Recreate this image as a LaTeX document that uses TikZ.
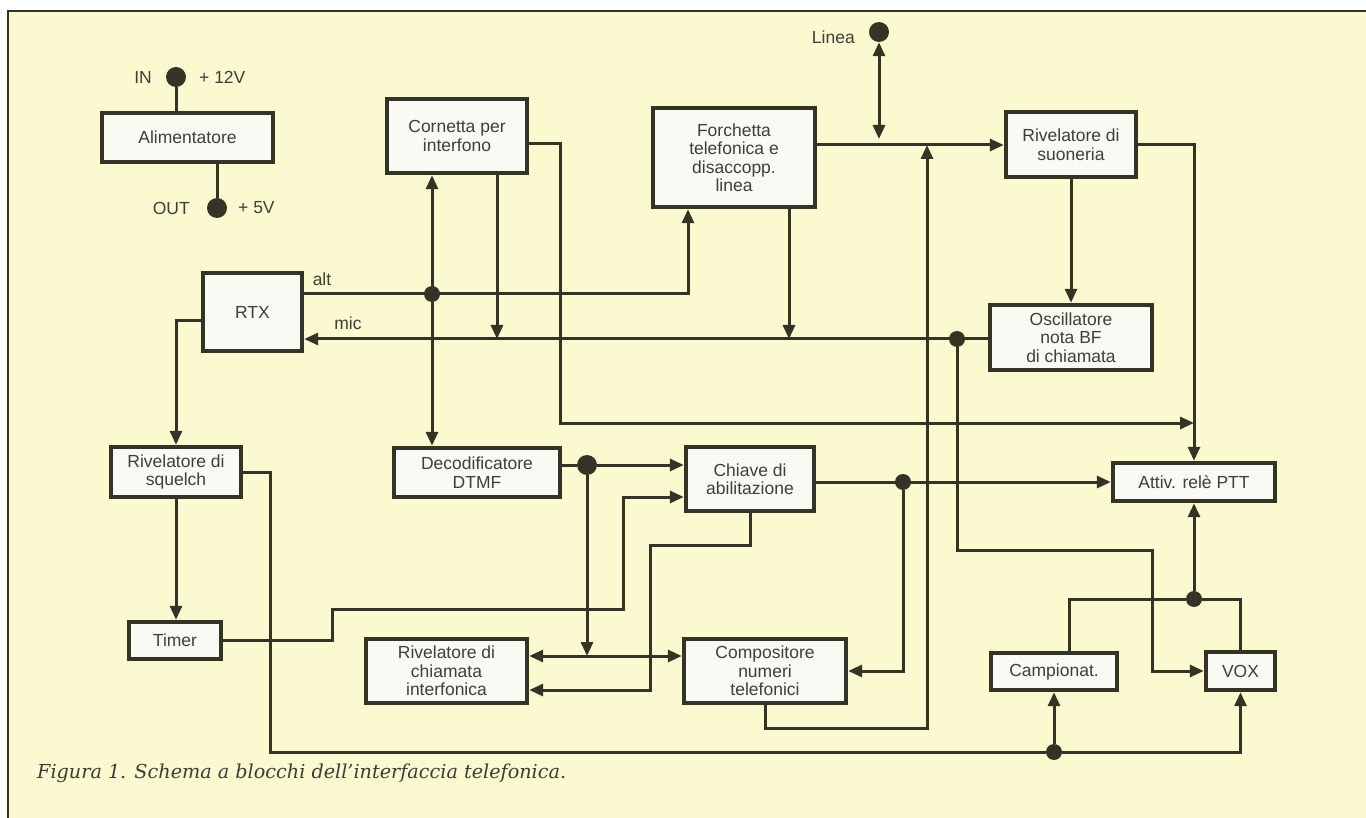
\documentclass[tikz,border=0pt]{standalone}
\usepackage{fontspec}
\setmainfont{Liberation Sans}
\newfontfamily\capfont{DejaVu Serif}
\usetikzlibrary{arrows.meta,calc}
\definecolor{bg}{RGB}{251,249,208}
\definecolor{ink}{RGB}{52,52,38}
\definecolor{txt}{RGB}{62,62,58}
\definecolor{capcol}{RGB}{60,60,52}
\definecolor{boxfill}{RGB}{250,250,244}
\begin{document}
\begin{tikzpicture}[x=1pt,y=-1pt,
  blk/.style={draw=ink,line width=4.4pt,fill=boxfill,inner sep=0pt,align=center,text=txt,font=\fontsize{17.5}{18.5}\selectfont},
  wire/.style={draw=ink,line width=3pt},
  arr/.style={wire,-{Triangle[length=14pt,width=12pt]}},
  arr2/.style={wire,{Triangle[length=14pt,width=12pt]}-{Triangle[length=14pt,width=12pt]}},
  jdot/.style={circle,fill=ink,inner sep=0pt,minimum size=16pt},
  tdot/.style={circle,fill=ink,inner sep=0pt,minimum size=20pt},
  lbl/.style={text=txt,font=\fontsize{17.5}{18.5}\selectfont,inner sep=0pt},
]
\useasboundingbox (0,0) rectangle (1366,818);
\fill[white] (0,0) rectangle (1366,818);
\fill[bg] (8,11) rectangle (1366,818);
\draw[ink,line width=2.4pt] (8,818) -- (8,11) -- (1366,11);

% blocks
\node[blk,minimum width=171pt,minimum height=49pt] (alim) at (187.5,137.5) {Alimentatore};
\node[blk,minimum width=140pt,minimum height=74pt] (corn) at (457,136) {Cornetta per\\interfono};
\node[blk,minimum width=162pt,minimum height=99pt] (forch) at (734,157.5) {Forchetta\\telefonica e\\disaccopp.\\linea};
\node[blk,minimum width=130pt,minimum height=65pt] (rivs) at (1071,144.5) {Rivelatore di\\suoneria};
\node[blk,minimum width=99pt,minimum height=78pt] (rtx) at (252.5,312) {RTX};
\node[blk,minimum width=162pt,minimum height=65pt] (osc) at (1071,337.5) {Oscillatore\\nota BF\\di chiamata};
\node[blk,minimum width=130pt,minimum height=50pt] (squ) at (176,472) {Rivelatore di\\squelch};
\node[blk,minimum width=166pt,minimum height=49pt] (dtmf) at (477,472.5) {Decodificatore\\DTMF};
\node[blk,minimum width=128pt,minimum height=64pt] (chiave) at (750,479) {Chiave di\\abilitazione};
\node[blk,minimum width=162pt,minimum height=38pt] (ptt) at (1194,482) {Attiv. relè PTT};
\node[blk,minimum width=92pt,minimum height=37pt] (timer) at (175,640.5) {Timer};
\node[blk,minimum width=161pt,minimum height=64pt] (rivc) at (446.5,671) {Rivelatore di\\chiamata\\interfonica};
\node[blk,minimum width=162pt,minimum height=64pt] (comp) at (765,671) {Compositore\\numeri\\telefonici};
\node[blk,minimum width=126pt,minimum height=37pt] (camp) at (1054,671.5) {Campionat.};
\node[blk,minimum width=69pt,minimum height=38pt] (vox) at (1240.5,671) {VOX};

% terminals and junctions
\node[tdot] (indot) at (176,77) {};
\node[tdot] (outdot) at (217,208) {};
\node[tdot] (lindot) at (879,32) {};
\node[jdot] (j432) at (432,294) {};
\node[jdot] (j957) at (957,339) {};
\node[tdot] (jd) at (587,465) {};
\node[jdot] (j903) at (903,482) {};
\node[jdot] (jp) at (1194,599) {};
\node[jdot] (jc) at (1054,752) {};

% labels
\node[lbl,anchor=east] (lin) at (152,77) {IN};
\node[lbl,anchor=west] (l12) at (199,77) {+ 12V};
\node[lbl,anchor=east] (lout) at (190,208) {OUT};
\node[lbl,anchor=west] (l5) at (238,208) {+ 5V};
\node[lbl,anchor=east] (llinea) at (855,37) {Linea};
\node[lbl] (lalt) at (322,279) {alt};
\node[lbl] (lmic) at (348,323) {mic};

% routing coordinates
\coordinate (busy) at (0,145);
\coordinate (alty) at (0,294);
\coordinate (micy) at (0,339);
\coordinate (linend) at (879,139);
\coordinate (b927) at (927,728);
\coordinate (k1) at (560,423);
\coordinate (k2) at (1194,423);
\coordinate (m497) at (497,339);
\coordinate (m789) at (789,339);
\coordinate (x432) at (432,0);
\coordinate (b1152) at (1152,550);
\coordinate (s1) at (270,752);
\coordinate (t1) at (332,609);
\coordinate (t2) at (623,497);
\coordinate (h587) at (587,656);
\coordinate (h656) at (0,656);
\coordinate (c650) at (650,545);
\coordinate (y690) at (0,690);

% connectors
\draw[wire] (indot) -- (indot |- alim.north);
\draw[wire] (outdot |- alim.south) -- (outdot);
\draw[arr2] (lindot.south) -- (linend);
\draw[arr] (forch.east |- busy) -- (rivs.west |- busy);
\draw[arr] (comp.south) |- (b927) -- (b927 |- busy);
\draw[arr] (rivs.east) -| (ptt.north);
\draw[arr] (rivs.south) -- (osc.north);
\draw[arr] ([yshift=-8pt]corn.east) -| (k1) -- (k2);
\draw[arr] (rtx.east |- alty) -| ([xshift=-46pt]forch.south);
\draw[arr2] (corn.south -| x432) -- (dtmf.north -| x432);
\draw[arr] (corn.south -| m497) -- (m497);
\draw[arr] (forch.south -| m789) -- (m789);
\draw[arr] (osc.west |- micy) -- (rtx.east |- micy);
\draw[arr] (j957) |- (b1152) |- (vox.west);
\draw[arr] ([yshift=-9pt]rtx.west) -| (squ.north);
\draw[arr] (squ.south) -- (squ.south |- timer.north);
\draw[wire] (squ.east) -| (s1) -- (jc);
\draw[arr] (jc) -- (camp.south);
\draw[arr] (jc) -| (vox.south);
\draw[arr] (timer.east) -| (t1) -| (t2) -- (chiave.west |- t2);
\draw[wire] ([yshift=7.5pt]dtmf.east) -- (jd);
\draw[arr] (jd) -- (chiave.west |- jd);
\draw[arr] (jd) -- (h587);
\draw[arr2] (rivc.east |- h656) -- (comp.west |- h656);
\draw[arr] (chiave.south) |- (c650) |- (rivc.east |- y690);
\draw[arr] (chiave.east |- ptt.west) -- (ptt.west);
\draw[arr] (j903) |- (comp.east);
\draw[wire] ([xshift=15pt]camp.north) |- (jp) -| (vox.north);
\draw[arr] (jp) -- (ptt.south);

% caption
\node[anchor=west,inner sep=0pt,text=capcol,font=\capfont\itshape\fontsize{19.2}{22}\selectfont] (cap) at (37,773) {Figura 1. Schema a blocchi dell’interfaccia telefonica.};
\end{tikzpicture}
\end{document}
